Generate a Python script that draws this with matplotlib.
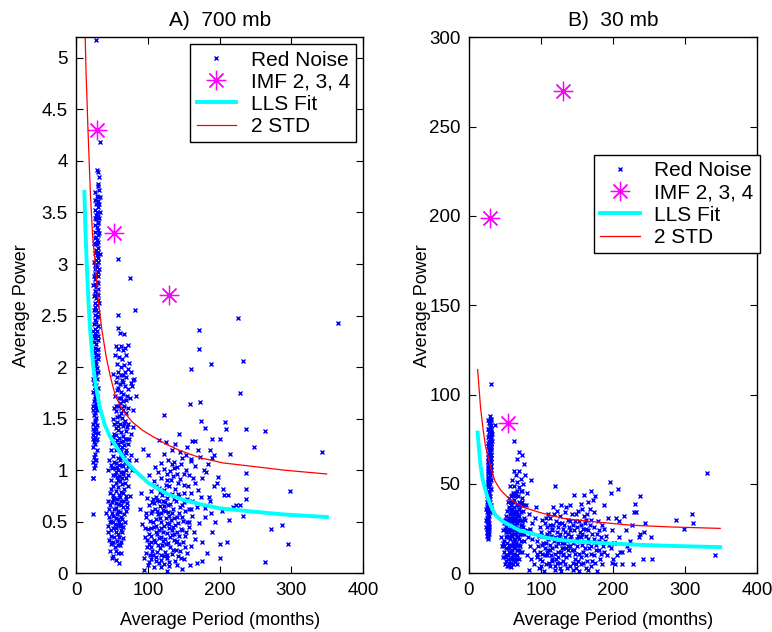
"""
Red noise test of IMF power: 700 mb and 30 mb panels
"""
import numpy as np
import matplotlib
matplotlib.use('Agg')
import matplotlib.pyplot as plt

plt.rcParams['font.family'] = ['Liberation Sans', 'DejaVu Sans']

# ---------------- 700 mb panel data ----------------
a_imf_x = [28.8, 53.4, 130]
a_imf_y = [4.3, 3.3, 2.7]

a_fit_x = [11.6, 13, 15, 17.2, 20, 24.2, 28, 33.4, 40, 47, 56.7, 68, 79.9, 100, 126.4, 150, 172.8, 200, 242.5, 290, 349.4]
a_fit_y = [3.70, 3.35, 2.98, 2.64, 2.33, 1.99, 1.80, 1.60, 1.44, 1.33, 1.22, 1.10, 1.01, 0.88, 0.77, 0.71, 0.67, 0.63, 0.60, 0.57, 0.545]

a_std_x = [12.0, 14, 16.7, 20, 23, 26.9, 31, 36.2, 42, 47.4, 54.8, 65, 78, 92, 106, 126, 145, 173, 205, 242, 290, 349]
a_std_y = [5.40, 4.85, 4.29, 3.68, 3.28, 2.99, 2.64, 2.35, 2.10, 1.92, 1.72, 1.58, 1.47, 1.39, 1.33, 1.25, 1.19, 1.12, 1.07, 1.04, 1.00, 0.963]

# red noise: vertical streak near 28 months
a_streak = [
    (28, 5.17), (33, 4.18), (29, 3.91), (30, 3.89), (32, 3.84), (31, 3.78), (30, 3.76), (32, 3.72), (27, 3.70), (29, 3.66),
    (31, 3.61), (28, 3.58), (30, 3.55), (27, 3.52), (29, 3.50), (31, 3.47), (28, 3.44), (30, 3.41), (26, 3.38), (29, 3.36),
    (31, 3.33), (27, 3.31), (30, 3.28), (28, 3.26), (29, 3.23), (31, 3.21), (27, 3.19), (30, 3.16), (28, 3.14), (26, 3.11),
    (29, 3.09), (31, 3.06), (28, 3.04), (30, 3.02), (27, 2.99), (29, 2.97), (26, 2.95), (31, 2.92), (28, 2.90), (30, 2.88),
    (27, 2.85), (29, 2.83), (26, 2.81), (28, 2.78), (30, 2.76), (27, 2.74), (29, 2.71), (25, 2.69), (28, 2.67), (30, 2.65),
    (26, 2.62), (29, 2.60), (27, 2.58), (28, 2.55), (31, 2.53), (26, 2.51), (29, 2.49), (27, 2.46), (28, 2.44), (25, 2.42),
    (30, 2.40), (27, 2.37), (29, 2.35), (26, 2.33), (28, 2.31), (27, 2.28), (30, 2.26), (25, 2.24), (28, 2.22), (26, 2.19),
    (29, 2.17), (27, 2.15), (28, 2.12), (25, 2.10), (30, 2.08), (26, 2.06), (28, 2.03), (27, 2.01), (29, 1.99), (25, 1.97),
    (28, 1.94), (26, 1.92), (27, 1.90), (29, 1.88), (25, 1.85), (28, 1.83), (26, 1.81), (27, 1.78), (24, 1.76), (28, 1.74),
    (26, 1.72), (27, 1.69), (25, 1.67), (28, 1.65), (26, 1.63), (27, 1.60), (24, 1.58), (27, 1.56), (25, 1.54), (28, 1.51),
    (26, 1.49), (27, 1.47), (24, 1.45), (26, 1.42), (28, 1.40), (25, 1.38), (27, 1.36), (24, 1.34), (26, 1.31), (28, 1.29),
    (25, 1.27), (27, 1.25), (24, 1.22), (26, 1.16), (25, 1.13), (27, 1.10), (24, 1.08), (26, 1.05), (25, 1.02), (23, 0.92),
    (24, 0.92), (23, 0.57), (31, 3.02), (31, 2.70), (30, 2.50), (30, 2.12), (29, 1.72), (29, 1.44), (28, 1.60), (25, 1.95),
    (24, 2.05), (25, 2.30), (26, 2.70), (27, 2.90), (26, 3.25), (28, 3.48), (32, 3.30), (33, 3.10), (31, 2.40), (30, 1.95),
    (29, 1.30), (26, 1.55), (28, 2.98), (29, 3.19), (30, 3.65), (32, 3.58),
    (25, 3.02), (24, 2.80), (25, 2.55), (24, 2.35), (23, 2.15), (24, 1.88), (23, 1.62), (24, 1.40), (23, 1.30), (31, 3.12),
    (32, 2.95), (31, 2.82), (32, 2.62), (30, 2.30), (31, 2.18), (30, 1.80), (29, 1.58), (30, 1.36), (29, 1.20), (28, 1.10),
    (33, 3.50), (32, 3.45), (31, 3.40), (33, 3.65), (27, 3.62), (26, 3.45), (25, 3.20), (25, 2.88), (26, 2.05), (27, 1.32),
]

# red noise: cluster near 60 months
a_mid = [
    (59, 3.05), (75, 2.86), (82, 2.55), (58, 2.51), (59, 2.38), (61, 2.33), (67, 2.32), (56, 2.20), (58, 2.18), (62, 2.20),
    (65, 2.17), (68, 2.19), (72, 2.21), (54, 2.12), (60, 2.10), (64, 2.08), (70, 2.12), (57, 2.03), (63, 2.00), (67, 2.02),
    (74, 2.04), (80, 1.87), (52, 1.93), (59, 1.95), (65, 1.92), (70, 1.90), (76, 1.85), (55, 1.86), (61, 1.84), (68, 1.82),
    (73, 1.79), (78, 1.82), (57, 1.78), (63, 1.76), (66, 1.74), (71, 1.72), (60, 1.70), (54, 1.72), (69, 1.68), (75, 1.70),
    (84, 1.72), (58, 1.62), (62, 1.60), (66, 1.58), (55, 1.57), (70, 1.55), (60, 1.53), (64, 1.51), (52, 1.50), (68, 1.48),
    (57, 1.47), (61, 1.45), (73, 1.45), (65, 1.43), (55, 1.41), (59, 1.39), (63, 1.37), (69, 1.38), (53, 1.35), (66, 1.33),
    (60, 1.31), (57, 1.29), (71, 1.30), (63, 1.27), (50, 1.26), (67, 1.24), (59, 1.22), (55, 1.20), (62, 1.19), (70, 1.17),
    (65, 1.15), (52, 1.14), (58, 1.12), (61, 1.10), (68, 1.08), (56, 1.07), (64, 1.05), (73, 1.04), (50, 1.02), (59, 1.00),
    (62, 0.98), (66, 0.96), (54, 0.95), (57, 0.93), (70, 0.92), (48, 0.90), (61, 0.89), (64, 0.87), (52, 0.85), (58, 0.84),
    (67, 0.82), (55, 0.80), (62, 0.79), (47, 0.78), (60, 0.76), (69, 0.75), (53, 0.73), (57, 0.72), (65, 0.70), (50, 0.69),
    (59, 0.67), (63, 0.66), (71, 0.64), (55, 0.63), (46, 0.62), (58, 0.60), (61, 0.59), (67, 0.57), (52, 0.56), (56, 0.54),
    (64, 0.53), (49, 0.51), (60, 0.50), (54, 0.48), (58, 0.47), (66, 0.45), (44, 0.46), (51, 0.44), (62, 0.42), (56, 0.40),
    (59, 0.38), (48, 0.36), (53, 0.35), (65, 0.34), (57, 0.31), (50, 0.29), (61, 0.27), (54, 0.25), (47, 0.22), (58, 0.20),
    (52, 0.17), (56, 0.13), (60, 0.10), (48, 0.28), (45, 0.40), (70, 0.60), (72, 0.85), (74, 1.10), (76, 1.15), (78, 1.00),
    (75, 0.75), (80, 1.42), (79, 1.58), (83, 1.10), (71, 0.68), (69, 1.00), (53, 1.60), (51, 0.95), (49, 1.20), (46, 1.10),
    (44, 1.00), (62, 1.70), (67, 1.46), (64, 1.22), (57, 1.03), (55, 0.88), (53, 0.62), (60, 0.35), (63, 0.55), (66, 0.78),
    (68, 1.30), (50, 0.58), (45, 0.70), (42, 0.58), (47, 0.50), (57, 0.57), (61, 0.74), (59, 0.90), (63, 1.13), (56, 1.34),
    (54, 1.02), (52, 0.76), (65, 0.98), (67, 1.12), (58, 1.43),
    (51, 1.32), (54, 1.27), (58, 1.25), (61, 1.21), (65, 1.28), (69, 1.20), (72, 1.25), (48, 1.05), (53, 1.08), (60, 1.05),
    (66, 1.04), (71, 1.08), (49, 0.82), (55, 0.98), (60, 0.94), (64, 0.92), (68, 0.88), (72, 0.95), (47, 0.66), (51, 0.72),
    (56, 0.68), (62, 0.70), (66, 0.64), (70, 0.72), (46, 0.55), (52, 0.50), (58, 0.53), (63, 0.48), (68, 0.50), (49, 0.42),
    (55, 0.44), (61, 0.46), (64, 0.40), (52, 0.30), (58, 0.27), (63, 0.30), (46, 0.32), (55, 0.22), (62, 0.20), (50, 0.15),
    (53, 1.45), (57, 1.52), (63, 1.55), (67, 1.62), (71, 1.42), (74, 1.30), (77, 1.35), (56, 1.62), (61, 1.65), (65, 1.67),
    (72, 1.60), (59, 1.80), (64, 1.87), (68, 1.95), (72, 1.98), (62, 1.92), (66, 1.86), (57, 1.90), (77, 1.95), (81, 1.88),
]

# red noise: broad cluster 90-200 months
a_low = [
    (95, 0.03), (100, 0.08), (108, 0.06), (115, 0.10), (122, 0.09), (130, 0.07), (138, 0.12), (147, 0.04), (104, 0.14), (112, 0.16),
    (119, 0.18), (127, 0.15), (134, 0.19), (142, 0.17), (150, 0.14), (98, 0.20), (106, 0.22), (117, 0.24), (124, 0.21), (131, 0.25),
    (139, 0.23), (155, 0.20), (102, 0.28), (110, 0.30), (114, 0.27), (121, 0.31), (128, 0.29), (136, 0.32), (144, 0.28), (160, 0.26),
    (96, 0.35), (105, 0.36), (113, 0.38), (119, 0.35), (126, 0.39), (133, 0.37), (141, 0.40), (152, 0.36), (166, 0.33), (100, 0.43),
    (108, 0.45), (116, 0.42), (123, 0.46), (130, 0.44), (138, 0.47), (146, 0.43), (157, 0.45), (92, 0.48), (103, 0.51), (111, 0.53),
    (118, 0.50), (125, 0.54), (132, 0.52), (140, 0.55), (149, 0.51), (171, 0.49), (97, 0.58), (106, 0.60), (114, 0.57), (121, 0.61),
    (128, 0.59), (135, 0.62), (143, 0.58), (162, 0.56), (101, 0.66), (109, 0.68), (117, 0.65), (124, 0.69), (131, 0.67), (139, 0.70),
    (148, 0.66), (155, 0.72), (168, 0.64), (112, 0.74), (120, 0.76), (127, 0.73), (134, 0.77), (144, 0.75), (160, 0.78), (104, 0.80),
    (115, 0.83), (123, 0.81), (130, 0.85), (138, 0.82), (150, 0.86), (170, 0.81), (108, 0.89), (119, 0.92), (126, 0.90), (135, 0.94),
    (145, 0.91), (158, 0.95), (176, 0.92), (114, 0.98), (123, 1.01), (131, 0.99), (141, 1.03), (153, 1.00), (165, 1.04), (181, 0.98),
    (118, 1.07), (128, 1.10), (137, 1.08), (148, 1.12), (160, 1.09), (172, 1.13), (184, 1.06), (122, 1.16), (133, 1.20), (145, 1.18),
    (155, 1.22), (125, 1.27), (138, 1.25), (170, 1.20), (116, 1.29), (134, 1.06), (142, 0.88), (152, 0.60), (158, 0.50), (164, 0.40),
    (175, 0.30), (180, 0.55), (186, 0.70), (192, 0.85), (198, 0.93), (190, 0.40), (183, 0.20), (176, 0.12), (168, 0.10), (159, 0.08),
    (111, 0.12), (119, 0.06), (126, 0.02), (105, 0.44), (109, 0.32), (113, 0.60), (117, 0.54), (121, 0.40), (125, 0.28), (129, 0.48),
    (133, 0.58), (137, 0.38), (127, 0.18), (122, 0.65), (116, 0.70), (103, 0.18), (99, 0.25), (94, 0.15), (97, 0.55), (107, 0.72),
    (135, 0.45), (141, 0.31), (145, 0.22), (149, 0.30), (153, 0.40), (157, 0.62), (161, 0.70), (166, 0.88), (174, 0.74), (179, 0.63),
    (188, 0.58), (194, 0.50), (200, 0.28), (205, 0.82), (213, 0.52), (150, 0.96), (162, 1.28), (178, 1.00), (189, 1.12), (110, 1.03),
    (102, 0.95), (89, 0.62), (91, 0.78), (93, 1.21), (100, 1.15),
    (101, 0.11), (107, 0.18), (113, 0.21), (118, 0.13), (123, 0.17), (129, 0.11), (135, 0.23), (140, 0.08), (146, 0.15), (152, 0.25),
    (99, 0.32), (104, 0.25), (111, 0.40), (115, 0.34), (120, 0.27), (124, 0.33), (131, 0.35), (139, 0.30), (144, 0.36), (148, 0.42),
    (102, 0.38), (107, 0.50), (112, 0.46), (119, 0.44), (126, 0.49), (134, 0.42), (142, 0.49), (147, 0.55), (154, 0.50), (96, 0.44),
    (104, 0.58), (110, 0.62), (118, 0.58), (124, 0.60), (130, 0.56), (137, 0.54), (145, 0.64), (151, 0.69), (160, 0.62), (106, 0.69),
    (113, 0.71), (121, 0.70), (128, 0.66), (136, 0.72), (142, 0.77), (150, 0.78), (99, 0.73), (117, 0.79), (125, 0.86), (132, 0.90),
    (141, 0.96), (156, 0.85), (163, 0.92), (136, 1.02), (127, 0.96), (146, 1.06), (112, 0.85), (153, 1.15), (105, 0.30),
]

# red noise: scattered long-period points
a_out = [
    (365, 2.43), (226, 2.48), (171, 2.36), (171, 2.18), (233, 2.06), (188, 2.03), (160, 1.98), (229, 1.75), (173, 1.66), (159, 1.64),
    (122, 1.54), (174, 1.48), (208, 1.47), (180, 1.41), (209, 1.40), (237, 1.40), (263, 1.38), (200, 1.30), (190, 1.30), (143, 1.35),
    (248, 1.22), (343, 1.18), (215, 1.16), (298, 0.80), (237, 0.97), (237, 0.82), (237, 0.72), (287, 0.47), (272, 0.43), (295, 0.28),
    (263, 0.11), (232, 0.56), (223, 0.66), (212, 0.76), (206, 0.76), (203, 0.60), (210, 0.30), (200, 0.15), (196, 0.88), (185, 0.74),
    (228, 0.66), (218, 0.64), (192, 1.15), (186, 1.20), (165, 1.28), (160, 1.11),
]

# ---------------- 30 mb panel data ----------------
b_imf_x = [29.2, 54.6, 131]
b_imf_y = [199, 84, 270]

b_fit_x = [12, 14, 16, 19, 24.5, 30, 36.1, 45, 54.6, 70, 91.7, 108, 133, 154, 190, 224, 280, 349]
b_fit_y = [78.7, 69, 60.5, 52.5, 44, 38, 32.9, 29.5, 27.3, 24, 21.7, 19.8, 18.3, 17.6, 16.8, 16.1, 15.3, 14.6]

b_std_x = [12, 13.9, 16, 19.9, 23, 26.8, 31, 36.1, 44, 54.6, 65, 77.8, 100, 131, 154, 190, 224, 280, 349]
b_std_y = [114, 104, 93, 79.6, 71, 64.7, 58, 51.6, 46.5, 42.2, 39.3, 36.6, 33.8, 30.7, 29.6, 28.2, 26.9, 25.9, 25.1]

b_streak = [
    (31, 106), (36, 83), (29, 88), (30, 86), (28, 84), (31, 83), (29, 82), (27, 81), (30, 80), (28, 79),
    (31, 78), (29, 77), (27, 76), (30, 75), (28, 74), (31, 73), (29, 72), (27, 71), (30, 70), (28, 69),
    (29, 68), (27, 67), (30, 66), (28, 65), (29, 64), (27, 63), (30, 62), (28, 61), (29, 60), (26, 59),
    (30, 58), (28, 57), (27, 56), (29, 55), (28, 54), (26, 53), (30, 52), (27, 51), (29, 50), (28, 49),
    (26, 48), (29, 47), (27, 46), (28, 45), (26, 44), (29, 43), (27, 42), (28, 41), (25, 40), (28, 39),
    (27, 38), (29, 37), (26, 36), (28, 35), (25, 34), (27, 33), (28, 32), (26, 31), (27, 30), (25, 29),
    (28, 28), (26, 27), (27, 26), (25, 25), (27, 24), (26, 23), (28, 22), (25, 21), (26, 20), (27, 19),
    (26, 27.5), (28, 44.5), (30, 64.5), (31, 69), (30, 76), (28, 58), (26, 38.5), (25, 31), (24, 26), (24, 36),
    (29, 52.5), (27, 48.5), (30, 56), (31, 60), (32, 74), (29, 79), (28, 71), (27, 60), (26, 50), (25, 43),
    (24, 30), (27, 35), (28, 26), (29, 40), (26, 65), (27, 86), (30, 81), (32, 78), (31, 66), (29, 58), (25, 23),
    (26, 22.5), (27, 28.5), (29, 34), (30, 38), (28, 42), (27, 45), (30, 47), (28, 51), (27, 54), (29, 57),
    (27, 62), (29, 66), (28, 70), (30, 73), (29, 75), (28, 77), (30, 79), (28, 81), (29, 84), (30, 86.5),
    (26, 33), (25, 37), (26, 41), (27, 57.5), (29, 62.5), (28, 66.5), (30, 70.5), (27, 73), (26, 45.5), (28, 24.5),
]

b_mid = [
    (62, 74), (70, 68), (73, 66), (66, 64), (76, 61), (62, 57), (69, 57), (78, 55), (65, 55), (72, 53),
    (60, 52), (67, 51), (86, 52), (75, 50), (63, 49), (69, 48), (57, 49), (72, 46), (65, 45), (80, 45),
    (60, 44), (68, 43), (74, 42), (56, 42), (63, 41), (70, 40), (66, 39), (59, 38), (76, 38), (62, 37),
    (69, 36), (55, 36), (65, 35), (72, 34), (58, 34), (61, 33), (68, 32), (52, 32), (64, 31), (71, 30),
    (57, 30), (60, 29), (67, 28), (54, 28), (63, 27), (74, 27), (59, 26), (66, 25), (50, 25), (62, 24),
    (70, 24), (56, 23), (65, 22), (60, 21), (53, 21), (68, 20), (63, 19), (57, 19), (72, 18), (49, 18),
    (61, 17), (66, 16), (55, 16), (59, 15), (64, 14), (52, 14), (69, 13), (57, 12), (62, 11), (48, 12),
    (66, 10), (54, 10), (60, 9), (58, 8), (64, 7), (51, 7), (56, 6), (61, 5), (53, 4), (58, 3.5),
    (50, 5), (47, 9), (46, 15), (45, 20), (47, 24), (50, 30), (53, 35), (56, 28), (58, 22), (61, 26),
    (63, 35), (65, 29), (67, 23), (69, 16), (71, 22), (73, 29), (75, 35), (78, 30), (80, 24), (82, 20),
    (77, 18), (74, 12), (70, 8), (67, 5), (72, 38), (58, 40), (61, 45), (64, 19), (56, 12), (53, 17),
    (59, 31), (62, 14), (66, 33), (68, 38), (71, 12), (55, 24), (51, 20), (49, 28), (60, 36), (63, 8),
    (57, 27), (65, 17), (67, 10), (54, 8), (62, 29), (70, 32), (76, 22), (79, 38), (84, 33), (88, 28),
    (85, 15), (81, 10),
    (52, 26), (55, 31), (58, 36), (61, 40), (64, 43), (67, 46), (59, 43), (54, 40), (57, 33), (60, 24),
    (63, 22), (66, 20), (69, 25), (72, 27), (68, 30), (65, 26), (62, 18), (59, 12), (55, 14), (52, 10),
    (49, 15), (57, 16), (60, 13), (63, 16), (66, 13), (69, 19), (71, 15), (73, 22), (75, 26), (77, 31),
    (56, 20), (54, 25), (51, 23), (58, 29), (61, 31), (64, 27), (67, 34), (70, 36), (73, 40), (74, 46),
    (63, 45), (61, 10), (65, 8), (58, 6), (55, 4), (50, 9), (47, 17), (53, 30), (56, 37), (62, 33),
]

b_low = [
    (83, 2), (90, 5), (97, 3), (104, 1), (112, 4), (120, 2), (128, 1), (136, 3), (145, 2), (153, 1),
    (162, 3), (170, 4), (178, 1), (86, 8), (94, 9), (101, 7), (109, 10), (116, 8), (124, 9), (131, 7),
    (139, 10), (147, 8), (155, 9), (164, 7), (173, 10), (182, 8), (90, 13), (98, 12), (106, 14), (113, 13),
    (121, 15), (128, 12), (135, 14), (143, 13), (150, 15), (158, 12), (167, 14), (176, 13), (186, 15), (95, 18),
    (103, 17), (110, 19), (118, 18), (125, 20), (132, 17), (140, 19), (148, 18), (156, 20), (165, 17), (174, 19),
    (189, 18), (100, 23), (108, 22), (115, 24), (122, 23), (130, 25), (138, 22), (146, 24), (154, 23), (162, 25),
    (171, 22), (180, 24), (105, 28), (113, 27), (121, 29), (129, 28), (137, 30), (145, 27), (153, 29), (161, 28),
    (170, 30), (92, 31), (118, 33), (126, 32), (134, 34), (143, 33), (151, 35), (160, 32), (168, 36), (140, 38),
    (155, 39), (166, 40), (172, 41), (146, 44), (120, 49), (170, 46), (175, 43), (196, 51), (187, 38), (193, 31),
    (198, 24), (192, 10), (185, 5), (99, 26), (112, 16), (119, 11), (127, 6), (133, 20), (141, 15), (149, 5),
    (157, 16), (163, 21), (169, 11), (177, 16), (183, 20), (96, 15), (102, 11), (107, 5), (114, 21), (123, 26),
    (131, 14), (139, 26), (147, 11), (152, 21), (159, 6), (168, 27), (175, 6), (181, 13), (188, 25), (107, 31),
    (115, 7), (124, 17), (135, 9), (144, 6), (158, 25), (179, 29), (129, 17), (137, 13), (126, 22), (117, 27),
    (110, 33), (102, 30), (141, 29), (150, 26), (165, 24), (174, 34), (185, 27), (110, 13), (122, 6), (130, 10),
    (97, 21), (88, 19), (85, 25), (93, 37), (117, 37), (128, 38), (160, 44), (190, 21), (197, 14), (201, 17),
    (199, 6), (203, 5),
    (98, 8), (105, 10), (111, 6), (119, 4), (126, 3), (133, 5), (140, 4), (148, 3), (156, 5), (166, 2),
    (101, 16), (108, 12), (116, 14), (123, 12), (131, 11), (138, 15), (146, 13), (153, 11), (161, 14), (170, 15),
    (104, 21), (111, 23), (119, 20), (127, 19), (134, 23), (142, 21), (150, 19), (157, 22), (166, 19), (173, 26),
    (109, 26), (116, 25), (125, 28), (132, 27), (140, 24), (147, 29), (156, 27), (163, 30), (178, 22), (184, 11),
    (95, 11), (100, 4), (107, 17), (114, 10), (121, 8), (129, 14), (136, 18), (144, 17), (151, 7), (163, 10),
    (171, 7), (180, 18), (187, 12), (194, 16), (113, 31), (122, 35), (135, 37), (149, 33), (157, 36), (164, 33),
]

b_out = [
    (330, 56), (310, 33), (311, 28), (287, 30), (299, 25), (342, 10), (253, 20), (245, 28), (243, 23), (242, 8),
    (237, 43), (231, 39), (229, 34), (232, 34), (254, 8), (222, 13), (213, 12), (210, 12), (201, 17), (197, 45),
    (207, 47), (208, 20), (206, 10), (200, 8), (215, 32), (218, 24), (226, 27), (236, 20), (237, 22), (228, 5),
    (212, 5), (220, 15), (208, 29), (204, 31), (224, 18),
]

a_ticks = [0, 0.5, 1, 1.5, 2, 2.5, 3, 3.5, 4, 4.5, 5]
a_ticklabels = ['0', '0.5', '1', '1.5', '2', '2.5', '3', '3.5', '4', '4.5', '5']
b_ticks = [0, 50, 100, 150, 200, 250, 300]
x_ticks = [0, 100, 200, 300, 400]


def draw_panel(ax, noise, imf_x, imf_y, fit_x, fit_y, std_x, std_y):
    pts = np.array(noise)
    ax.plot(pts[:, 0], pts[:, 1], 'x', color='#0000FF', markersize=3.3, markeredgewidth=1.0,
            linestyle='none', label='Red Noise')
    ax.plot(imf_x, imf_y, linestyle='none', marker=(8, 2, 0), color='#FF00FF',
            markersize=14, markeredgewidth=0.9, label='IMF 2, 3, 4')
    ax.plot(fit_x, fit_y, color='#00FFFF', linewidth=2.8, label='LLS Fit')
    ax.plot(std_x, std_y, color='#FF0000', linewidth=0.9, label='2 STD')
    ax.set_xlim(0, 400)
    ax.set_xticks(x_ticks)
    ax.tick_params(direction='in', top=True, right=True, labelsize=13.5, length=5, width=0.8, pad=6)
    for s in ax.spines.values():
        s.set_linewidth(1.0)
    ax.set_xlabel('Average Period (months)', fontsize=13, labelpad=10)


fig = plt.figure(figsize=(7.72, 6.32), dpi=100)

ax1 = fig.add_axes([0.0985, 0.093, 0.372, 0.848])
draw_panel(ax1, a_streak + a_mid + a_low + a_out, a_imf_x, a_imf_y, a_fit_x, a_fit_y, a_std_x, a_std_y)
ax1.set_ylim(0, 5.2)
ax1.set_yticks(a_ticks)
ax1.set_yticklabels(a_ticklabels)
ax1.set_ylabel('Average Power', fontsize=13, labelpad=8)
ax1.set_title('A)  700 mb', fontsize=15, pad=8)

ax2 = fig.add_axes([0.6075, 0.093, 0.373, 0.848])
draw_panel(ax2, b_streak + b_mid + b_low + b_out, b_imf_x, b_imf_y, b_fit_x, b_fit_y, b_std_x, b_std_y)
ax2.set_ylim(0, 300)
ax2.set_yticks(b_ticks)
ax2.set_ylabel('Average Power', fontsize=13, labelpad=-1)
ax2.set_title('B)  30 mb', fontsize=15, pad=8)

leg_kw = dict(fontsize=15, fancybox=False, edgecolor='black', framealpha=1, borderaxespad=0,
              handlelength=1.9, handletextpad=0.7, labelspacing=0.15, borderpad=0.3, markerscale=1.0)
l1 = ax1.legend(loc='upper right', bbox_to_anchor=(0.976, 0.987), **leg_kw)
l2 = ax2.legend(loc='upper right', bbox_to_anchor=(1.01, 0.78), **leg_kw)
for leg in (l1, l2):
    leg.get_frame().set_linewidth(1.0)

plt.savefig('out.png', dpi=100)
